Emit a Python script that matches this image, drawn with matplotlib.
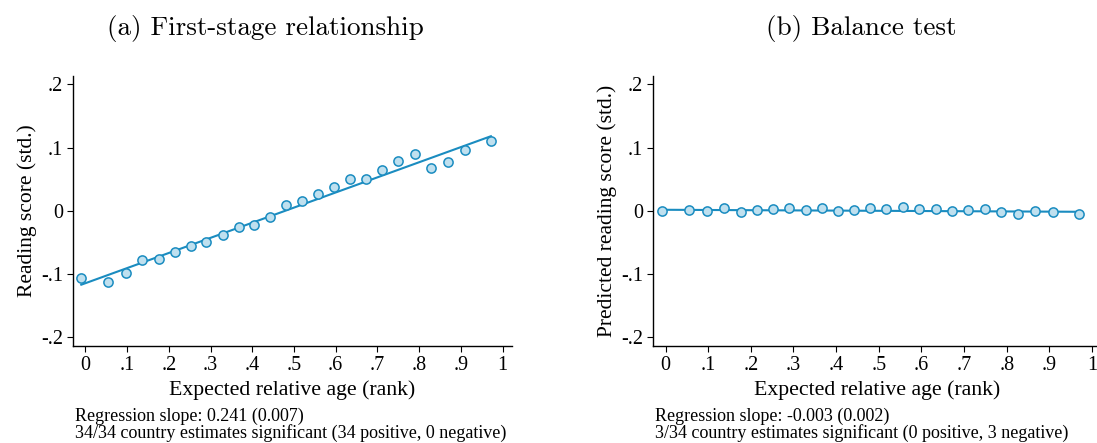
import numpy as np
import matplotlib
matplotlib.use("Agg")
import matplotlib.pyplot as plt

# Binned scatter values
rank_a = [-0.010, 0.054, 0.097, 0.136, 0.176, 0.214, 0.252, 0.290, 0.329, 0.367,
          0.405, 0.442, 0.480, 0.519, 0.558, 0.596, 0.634, 0.673, 0.711, 0.750,
          0.789, 0.828, 0.868, 0.909, 0.972]
score_a = [-0.107, -0.113, -0.099, -0.078, -0.076, -0.066, -0.056, -0.049, -0.039, -0.025,
           -0.023, -0.010, 0.009, 0.015, 0.027, 0.038, 0.051, 0.051, 0.064, 0.079,
           0.090, 0.068, 0.077, 0.096, 0.111]
fit_x_a = [-0.010, 0.972]
fit_y_a = [-0.117, 0.118]

rank_b = [-0.009, 0.055, 0.098, 0.137, 0.176, 0.214, 0.253, 0.290, 0.329, 0.367,
          0.404, 0.442, 0.480, 0.518, 0.557, 0.595, 0.634, 0.672, 0.710, 0.748,
          0.786, 0.826, 0.866, 0.908, 0.970]
score_b = [-0.001, 0.0005, -0.001, 0.005, -0.002, 0.0005, 0.003, 0.004, 0.0005, 0.004,
           -0.0005, 0.001, 0.005, 0.003, 0.006, 0.003, 0.003, 0.000, 0.0005, 0.003,
           -0.002, -0.005, 0.000, -0.002, -0.005]
fit_x_b = [-0.009, 0.970]
fit_y_b = [0.0016, -0.0016]

xticks = [0, 0.1, 0.2, 0.3, 0.4, 0.5, 0.6, 0.7, 0.8, 0.9, 1.0]
xtick_labels = ["0", ".1", ".2", ".3", ".4", ".5", ".6", ".7", ".8", ".9", "1"]
yticks = [-0.2, -0.1, 0, 0.1, 0.2]
ytick_labels = ["-.2", "-.1", "0", ".1", ".2"]

titles = ["(a) First-stage relationship", "(b) Balance test"]
ylabels = ["Reading score (std.)", "Predicted reading score (std.)"]
notes = [["Regression slope: 0.241 (0.007)",
          "34/34 country estimates significant (34 positive, 0 negative)"],
         ["Regression slope: -0.003 (0.002)",
          "3/34 country estimates significant (0 positive, 3 negative)"]]

line_col = "#1a8cc0"
fill_col = "#bfe0ef"
serif = "Liberation Serif"

fig = plt.figure(figsize=(10.97, 4.43), dpi=100)

# axes boxes in figure fraction (left, bottom, width, height)
boxes = [[0.0665, 0.219, 0.400, 0.609],
         [0.595, 0.219, 0.409, 0.609]]
title_x = [0.242, 0.785]
note_x = [0.068, 0.597]

data = [(rank_a, score_a, fit_x_a, fit_y_a), (rank_b, score_b, fit_x_b, fit_y_b)]

for i, (xs, ys, fx, fy) in enumerate(data):
    ax = fig.add_axes(boxes[i])
    ax.plot(fx, fy, color=line_col, linewidth=1.5, zorder=2)
    ax.scatter(xs, ys, s=44, facecolor=fill_col, edgecolor=line_col,
               linewidth=1.1, zorder=3)

    ax.set_xlim(-0.03, 1.022)
    ax.set_ylim(-0.214, 0.213)
    ax.set_xticks(xticks)
    ax.set_xticklabels(xtick_labels)
    ax.set_yticks(yticks)
    ax.set_yticklabels(ytick_labels)

    for side in ["top", "right"]:
        ax.spines[side].set_visible(False)
    for side in ["left", "bottom"]:
        ax.spines[side].set_linewidth(1.0)
    ax.tick_params(direction="out", length=4, width=0.8, labelsize=14.5, pad=3)
    for lab in ax.get_xticklabels() + ax.get_yticklabels():
        lab.set_fontfamily(serif)

    ax.set_xlabel("Expected relative age (rank)", fontsize=15.7, family=serif, labelpad=4)
    ax.set_ylabel(ylabels[i], fontsize=15.5, family=serif, labelpad=3)

    # panel title (LaTeX-like caption)
    fig.text(title_x[i], 0.935, titles[i], ha="center", va="center",
             fontsize=19.5, family="cmr10")

    # notes under each panel
    fig.text(note_x[i], 0.061, notes[i][0], ha="left", va="center",
             fontsize=13, family=serif)
    fig.text(note_x[i], 0.0226, notes[i][1], ha="left", va="center",
             fontsize=13, family=serif)

fig.savefig("out.png", dpi=100)
